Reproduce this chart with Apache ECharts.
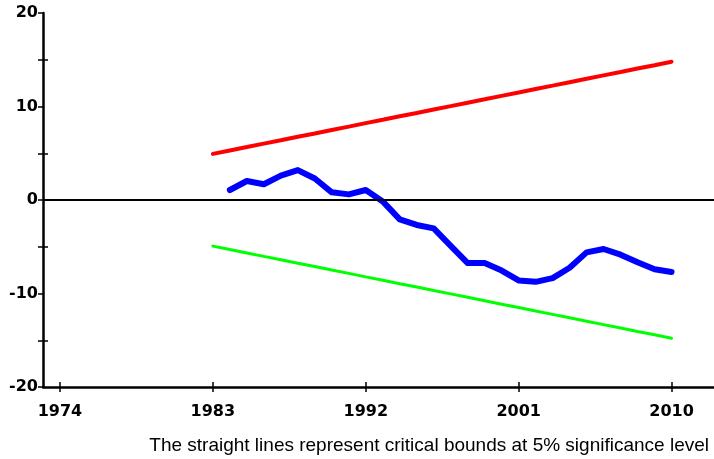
<!DOCTYPE html>
<html>
<head>
<meta charset="utf-8">
<script src="https://cdn.jsdelivr.net/npm/echarts@6/dist/echarts.min.js"></script>
<style>
  html, body { margin: 0; padding: 0; background: #fff; }
  #main { width: 714px; height: 459px; }
</style>
</head>
<body>
<div id="main"></div>
<script>
var years = [1983, 1984, 1985, 1986, 1987, 1988, 1989, 1990, 1991, 1992,
  1993, 1994, 1995, 1996, 1997, 1998, 1999, 2000, 2001, 2002,
  2003, 2004, 2005, 2006, 2007, 2008, 2009, 2010];

// CUSUM statistic (no value for 1983)
var cusum = [null, 1.07, 2.03, 1.68, 2.6, 3.2, 2.3, 0.82, 0.6, 1.07,
  -0.15, -2.07, -2.67, -3.03, -4.9, -6.75, -6.75, -7.55, -8.6, -8.75,
  -8.35, -7.25, -5.6, -5.24, -5.85, -6.65, -7.4, -7.7];

// 5% critical bounds
var upper = [4.93, 5.30, 5.66, 6.03, 6.39, 6.76, 7.12, 7.49, 7.85, 8.22,
  8.58, 8.95, 9.31, 9.68, 10.04, 10.41, 10.77, 11.14, 11.50, 11.87,
  12.23, 12.60, 12.96, 13.33, 13.69, 14.06, 14.42, 14.79];
var lower = [-4.93, -5.30, -5.66, -6.03, -6.39, -6.76, -7.12, -7.49, -7.85, -8.22,
  -8.58, -8.95, -9.31, -9.68, -10.04, -10.41, -10.77, -11.14, -11.50, -11.87,
  -12.23, -12.60, -12.96, -13.33, -13.69, -14.06, -14.42, -14.79];

var xTicks = [1974, 1983, 1992, 2001, 2010];
var caption = 'The straight lines represent critical bounds at 5% significance level';

function pairs(vals) {
  var out = [];
  for (var i = 0; i < years.length; i++) {
    if (vals[i] !== null) out.push([years[i], vals[i]]);
  }
  return out;
}

var chart = echarts.init(document.getElementById('main'), null, { renderer: 'canvas' });

var axisFont = {
  color: '#000',
  fontFamily: 'DejaVu Sans',
  fontWeight: 'bold',
  fontSize: 16
};

var option = {
  animation: false,
  backgroundColor: '#fff',
  grid: { left: 43, right: 0, top: 13, bottom: 72 },
  xAxis: [
    {
      type: 'value',
      min: 1973,
      max: 2012.5,
      position: 'bottom',
      axisLine: { onZero: false, lineStyle: { color: '#000', width: 2.5 } },
      axisTick: { customValues: xTicks, length: 5, lineStyle: { color: '#000', width: 1.5 } },
      axisLabel: Object.assign({
        customValues: xTicks,
        margin: 17,
        formatter: function (v) { return String(v); }
      }, axisFont),
      splitLine: { show: false }
    },
    {
      // second axis only to make the ticks cross the line
      type: 'value',
      min: 1973,
      max: 2012.5,
      position: 'bottom',
      offset: 0,
      axisLine: { show: false, onZero: false },
      axisTick: { customValues: xTicks, inside: true, length: 5, lineStyle: { color: '#000', width: 1.5 } },
      axisLabel: { show: false },
      splitLine: { show: false }
    }
  ],
  yAxis: [
    {
      type: 'value',
      min: -20,
      max: 20,
      interval: 10,
      position: 'left',
      axisLine: { show: true, onZero: false, lineStyle: { color: '#000', width: 2.5 } },
      axisTick: { show: true, length: 5, lineStyle: { color: '#000', width: 1.5 } },
      minorTick: { show: true, splitNumber: 2, length: 5, lineStyle: { color: '#000', width: 1.5 } },
      axisLabel: Object.assign({ margin: 5 }, axisFont),
      splitLine: { show: false }
    },
    {
      type: 'value',
      min: -20,
      max: 20,
      interval: 10,
      position: 'left',
      offset: 0,
      axisLine: { show: false },
      axisTick: { show: false, inside: true },
      minorTick: { show: true, splitNumber: 2, length: 5, lineStyle: { color: '#000', width: 1.5 } },
      axisLabel: { show: false },
      splitLine: { show: false }
    }
  ],
  graphic: [
    {
      type: 'text',
      right: 5,
      top: 436,
      style: {
        text: caption,
        fill: '#000',
        font: '19px "Liberation Sans"'
      }
    }
  ],
  series: [
    {
      name: 'upper',
      type: 'line',
      data: pairs(upper),
      showSymbol: false,
      lineStyle: { color: '#ff0000', width: 4, cap: 'round' },
      markLine: {
        silent: true,
        symbol: 'none',
        label: { show: false },
        lineStyle: { color: '#000', width: 2, type: 'solid' },
        data: [{ yAxis: 0 }]
      }
    },
    {
      name: 'lower',
      type: 'line',
      data: pairs(lower),
      showSymbol: false,
      lineStyle: { color: '#00ff00', width: 3, cap: 'round' }
    },
    {
      name: 'CUSUM',
      type: 'line',
      data: pairs(cusum),
      showSymbol: false,
      lineStyle: { color: '#0000ff', width: 6, cap: 'round', join: 'round' }
    }
  ]
};

chart.setOption(option);
</script>
</body>
</html>
